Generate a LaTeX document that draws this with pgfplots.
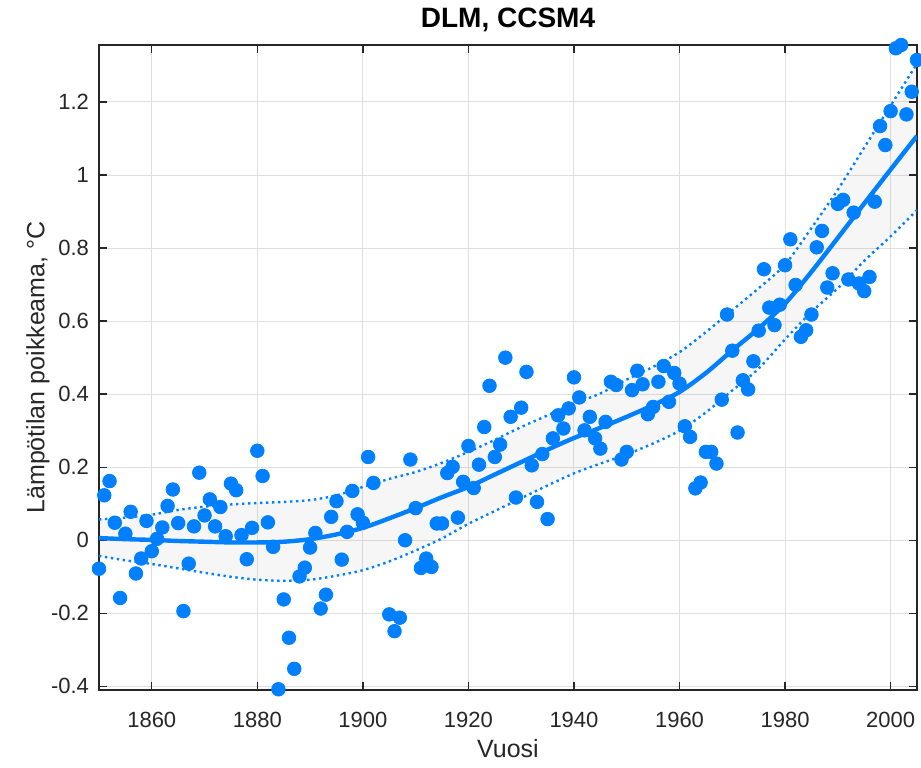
\documentclass[border=0pt]{standalone}
\usepackage{fontspec}
\setmainfont{Liberation Sans}
\usepackage{pgfplots}
\usepackage{pgfplotstable}
\pgfplotsset{compat=1.18}
\usepgfplotslibrary{fillbetween}
\definecolor{mblue}{RGB}{0,128,255}
\definecolor{axgray}{RGB}{38,38,38}

\pgfplotstableread{
year val
1850 -0.078
1851 0.123
1852 0.162
1853 0.048
1854 -0.158
1855 0.018
1856 0.078
1857 -0.091
1858 -0.050
1859 0.053
1860 -0.030
1861 0.004
1862 0.035
1863 0.094
1864 0.139
1865 0.047
1866 -0.194
1867 -0.064
1868 0.038
1869 0.185
1870 0.068
1871 0.112
1872 0.038
1873 0.091
1874 0.011
1875 0.155
1876 0.137
1877 0.014
1878 -0.052
1879 0.034
1880 0.245
1881 0.176
1882 0.049
1883 -0.018
1884 -0.408
1885 -0.162
1886 -0.267
1887 -0.352
1888 -0.099
1889 -0.075
1890 -0.020
1891 0.020
1892 -0.187
1893 -0.149
1894 0.064
1895 0.107
1896 -0.053
1897 0.023
1898 0.135
1899 0.071
1900 0.048
1901 0.228
1902 0.157
1905 -0.203
1906 -0.249
1907 -0.212
1908 0.000
1909 0.221
1910 0.088
1911 -0.076
1912 -0.050
1913 -0.073
1914 0.046
1915 0.046
1916 0.184
1917 0.201
1918 0.062
1919 0.160
1920 0.258
1921 0.143
1922 0.207
1923 0.310
1924 0.423
1925 0.228
1926 0.262
1927 0.500
1928 0.338
1929 0.117
1930 0.363
1931 0.461
1932 0.205
1933 0.105
1934 0.236
1935 0.058
1936 0.279
1937 0.342
1938 0.306
1939 0.361
1940 0.446
1941 0.391
1942 0.301
1943 0.338
1944 0.279
1945 0.251
1946 0.324
1947 0.434
1948 0.425
1949 0.221
1950 0.242
1951 0.411
1952 0.464
1953 0.427
1954 0.345
1955 0.365
1956 0.434
1957 0.477
1958 0.379
1959 0.458
1960 0.429
1961 0.312
1962 0.283
1963 0.142
1964 0.158
1965 0.242
1966 0.242
1967 0.210
1968 0.385
1969 0.618
1970 0.519
1971 0.295
1972 0.438
1973 0.413
1974 0.490
1975 0.574
1976 0.742
1977 0.637
1978 0.589
1979 0.645
1980 0.753
1981 0.824
1982 0.699
1983 0.557
1984 0.575
1985 0.618
1986 0.802
1987 0.847
1988 0.692
1989 0.731
1990 0.921
1991 0.932
1992 0.714
1993 0.897
1994 0.703
1995 0.682
1996 0.721
1997 0.927
1998 1.134
1999 1.082
2000 1.175
2001 1.347
2002 1.356
2003 1.166
2004 1.228
2005 1.315
}\obs

\pgfplotstableread{
year lo mean hi
1850 -0.043 0.006 0.057
1855 -0.055 0.003 0.062
1860 -0.065 0.001 0.070
1865 -0.077 -0.002 0.083
1870 -0.089 -0.004 0.092
1875 -0.100 -0.006 0.098
1880 -0.108 -0.006 0.102
1885 -0.111 -0.004 0.105
1890 -0.108 0.003 0.110
1895 -0.097 0.016 0.123
1900 -0.082 0.034 0.146
1905 -0.058 0.060 0.168
1910 -0.028 0.088 0.187
1915 0.005 0.118 0.212
1920 0.045 0.146 0.242
1925 0.080 0.180 0.275
1930 0.115 0.214 0.310
1935 0.150 0.248 0.342
1940 0.183 0.280 0.374
1945 0.210 0.308 0.402
1950 0.235 0.338 0.440
1955 0.265 0.370 0.475
1960 0.300 0.406 0.515
1965 0.350 0.458 0.570
1970 0.410 0.520 0.630
1975 0.470 0.580 0.690
1980 0.550 0.648 0.755
1985 0.625 0.735 0.855
1990 0.690 0.828 0.960
1995 0.765 0.922 1.075
2000 0.832 1.015 1.190
2005 0.904 1.107 1.305
}\band

\begin{document}
\begin{tikzpicture}
\begin{axis}[
  name=ax,
  scale only axis, width=409pt, height=322.5pt,
  xmin=1850, xmax=2005, ymin=-0.41, ymax=1.356,
  xtick={1860,1880,1900,1920,1940,1960,1980,2000},
  xticklabels={1860,1880,1900,1920,1940,1960,1980,2000},
  ytick={-0.4,-0.2,0,0.2,0.4,0.6,0.8,1,1.2},
  yticklabels={-0.4,-0.2,0,0.2,0.4,0.6,0.8,1,1.2},
  tick align=inside, tick pos=both,
  major tick length=4pt,
  grid=major,
  major grid style={gray!25, line width=0.5pt},
  axis line style={axgray, line width=0.7pt},
  every tick/.style={axgray, line width=0.7pt},
  tick label style={font=\fontsize{11}{13}\selectfont, text=axgray},
  xticklabel style={anchor=base, yshift=-18.5pt},
  yticklabel style={anchor=east, xshift=-1.5pt},
  xlabel={Vuosi},
  ylabel={Lämpötilan poikkeama, °C},
  label style={font=\fontsize{12.5}{15}\selectfont, text=axgray},
  xlabel style={at={(axis description cs:0.5,-0.1054)}, anchor=base},
  ylabel style={at={(axis description cs:-0.0746,0.5)}, anchor=center},
  every axis title shift=0pt,
  title={DLM, CCSM4},
  title style={font=\bfseries\fontsize{14}{16}\selectfont, at={(axis description cs:0.5,1.0264)}, anchor=base},
]
\addplot[name path=U, draw=none, smooth] table[x=year, y=hi]{\band};
\addplot[name path=L, draw=none, smooth] table[x=year, y=lo]{\band};
\addplot[fill=black, fill opacity=0.035, draw=none] fill between[of=U and L];
\addplot[mblue, line width=1.2pt, dash pattern=on 1.2pt off 1.8pt, smooth] table[x=year, y=hi]{\band};
\addplot[mblue, line width=1.2pt, dash pattern=on 1.2pt off 1.8pt, smooth] table[x=year, y=lo]{\band};
\addplot[mblue, line width=2.2pt, smooth] table[x=year, y=mean]{\band};
\addplot[only marks, mark=*, mark size=3.4pt, mark options={draw=mblue, fill=mblue}] table[x=year, y=val]{\obs};
\end{axis}
\pgfresetboundingbox
\path ([xshift=-49.5pt,yshift=-38.5pt]ax.south west) rectangle ([xshift=2pt,yshift=22.5pt]ax.north east);
\end{tikzpicture}
\end{document}
